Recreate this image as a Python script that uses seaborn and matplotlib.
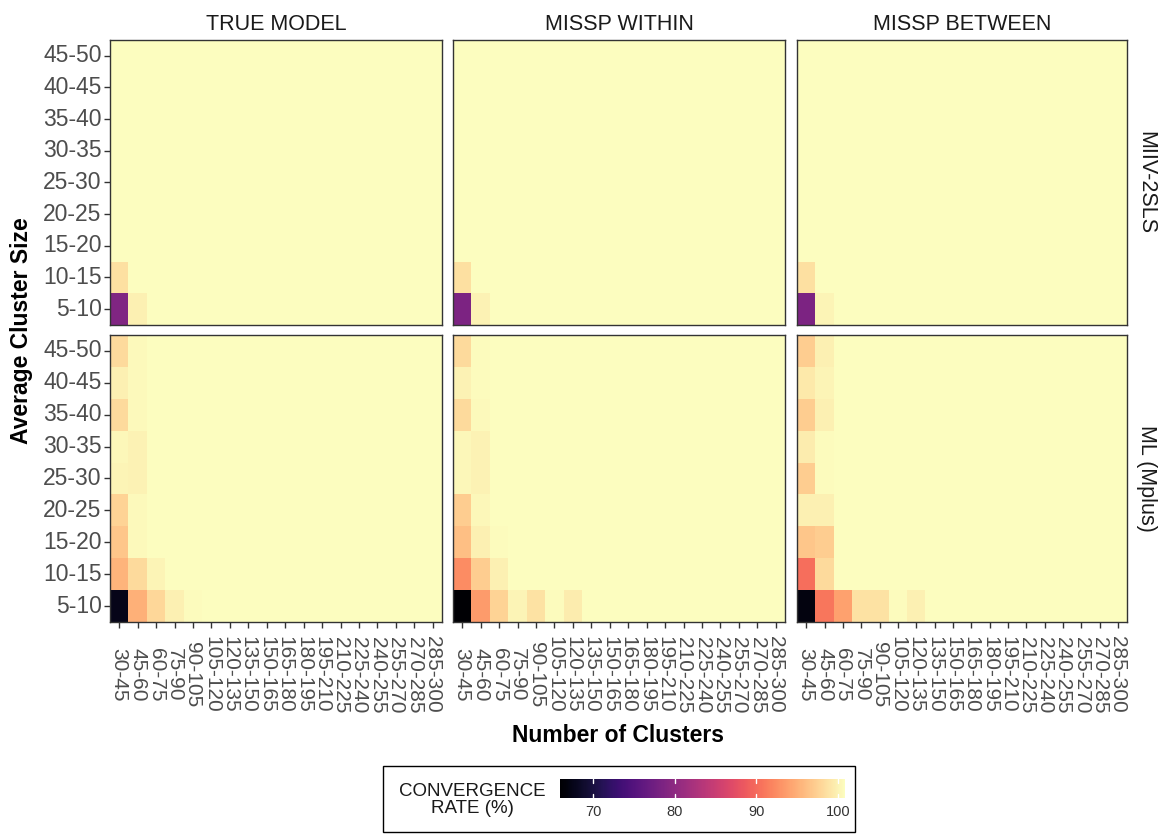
import numpy as np
import pandas as pd
import matplotlib
matplotlib.use("Agg")
import matplotlib.pyplot as plt
from matplotlib.patches import Rectangle
from matplotlib.cm import ScalarMappable
from matplotlib.colors import Normalize
import seaborn as sns

# ---- categories -------------------------------------------------------
n_clusters = ["30-45", "45-60", "60-75", "75-90", "90-105", "105-120", "120-135",
              "135-150", "150-165", "165-180", "180-195", "195-210", "210-225",
              "225-240", "240-255", "255-270", "270-285", "285-300"]
cluster_size = ["5-10", "10-15", "15-20", "20-25", "25-30", "30-35", "35-40",
                "40-45", "45-50"]
models = ["TRUE MODEL", "MISSP WITHIN", "MISSP BETWEEN"]
estimators = ["MIIV-2SLS", "ML (Mplus)"]

# ---- convergence rates (%), rows ordered 5-10 ... 45-50 ----------------
miiv_true = [
    [79.0, 99.0, 100, 100, 100, 100, 100, 100, 100, 100, 100, 100, 100, 100, 100, 100, 100, 100],
    [97.8, 99.9, 100, 100, 100, 100, 100, 100, 100, 100, 100, 100, 100, 100, 100, 100, 100, 100],
    [100, 100, 100, 100, 100, 100, 100, 100, 100, 100, 100, 100, 100, 100, 100, 100, 100, 100],
    [100, 100, 100, 100, 100, 100, 100, 100, 100, 100, 100, 100, 100, 100, 100, 100, 100, 100],
    [100, 100, 100, 100, 100, 100, 100, 100, 100, 100, 100, 100, 100, 100, 100, 100, 100, 100],
    [100, 100, 100, 100, 100, 100, 100, 100, 100, 100, 100, 100, 100, 100, 100, 100, 100, 100],
    [100, 100, 100, 100, 100, 100, 100, 100, 100, 100, 100, 100, 100, 100, 100, 100, 100, 100],
    [100, 100, 100, 100, 100, 100, 100, 100, 100, 100, 100, 100, 100, 100, 100, 100, 100, 100],
    [100, 100, 100, 100, 100, 100, 100, 100, 100, 100, 100, 100, 100, 100, 100, 100, 100, 100],
]
miiv_within = [
    [78.8, 99.2, 100, 100, 100, 100, 100, 100, 100, 100, 100, 100, 100, 100, 100, 100, 100, 100],
    [97.8, 100, 100, 100, 100, 100, 100, 100, 100, 100, 100, 100, 100, 100, 100, 100, 100, 100],
    [100, 100, 100, 100, 100, 100, 100, 100, 100, 100, 100, 100, 100, 100, 100, 100, 100, 100],
    [100, 100, 100, 100, 100, 100, 100, 100, 100, 100, 100, 100, 100, 100, 100, 100, 100, 100],
    [100, 100, 100, 100, 100, 100, 100, 100, 100, 100, 100, 100, 100, 100, 100, 100, 100, 100],
    [100, 100, 100, 100, 100, 100, 100, 100, 100, 100, 100, 100, 100, 100, 100, 100, 100, 100],
    [100, 100, 100, 100, 100, 100, 100, 100, 100, 100, 100, 100, 100, 100, 100, 100, 100, 100],
    [100, 100, 100, 100, 100, 100, 100, 100, 100, 100, 100, 100, 100, 100, 100, 100, 100, 100],
    [100, 100, 100, 100, 100, 100, 100, 100, 100, 100, 100, 100, 100, 100, 100, 100, 100, 100],
]
miiv_between = [
    [78.8, 99.3, 100, 100, 100, 100, 100, 100, 100, 100, 100, 100, 100, 100, 100, 100, 100, 100],
    [97.8, 100, 100, 100, 100, 100, 100, 100, 100, 100, 100, 100, 100, 100, 100, 100, 100, 100],
    [100, 100, 100, 100, 100, 100, 100, 100, 100, 100, 100, 100, 100, 100, 100, 100, 100, 100],
    [100, 100, 100, 100, 100, 100, 100, 100, 100, 100, 100, 100, 100, 100, 100, 100, 100, 100],
    [100, 100, 100, 100, 100, 100, 100, 100, 100, 100, 100, 100, 100, 100, 100, 100, 100, 100],
    [100, 100, 100, 100, 100, 100, 100, 100, 100, 100, 100, 100, 100, 100, 100, 100, 100, 100],
    [100, 100, 100, 100, 100, 100, 100, 100, 100, 100, 100, 100, 100, 100, 100, 100, 100, 100],
    [100, 100, 100, 100, 100, 100, 100, 100, 100, 100, 100, 100, 100, 100, 100, 100, 100, 100],
    [100, 100, 100, 100, 100, 100, 100, 100, 100, 100, 100, 100, 100, 100, 100, 100, 100, 100],
]
ml_true = [
    [68.3, 94.5, 97.2, 99.0, 99.8, 100, 100, 100, 100, 100, 100, 100, 100, 100, 100, 100, 100, 100],
    [94.8, 97.5, 99.3, 100, 100, 100, 100, 100, 100, 100, 100, 100, 100, 100, 100, 100, 100, 100],
    [96.0, 99.7, 99.9, 100, 100, 100, 100, 100, 100, 100, 100, 100, 100, 100, 100, 100, 100, 100],
    [97.0, 99.7, 100, 100, 100, 100, 100, 100, 100, 100, 100, 100, 100, 100, 100, 100, 100, 100],
    [99.3, 99.2, 100, 100, 100, 100, 100, 100, 100, 100, 100, 100, 100, 100, 100, 100, 100, 100],
    [99.5, 99.2, 100, 100, 100, 100, 100, 100, 100, 100, 100, 100, 100, 100, 100, 100, 100, 100],
    [97.5, 99.7, 100, 100, 100, 100, 100, 100, 100, 100, 100, 100, 100, 100, 100, 100, 100, 100],
    [99.0, 99.7, 100, 100, 100, 100, 100, 100, 100, 100, 100, 100, 100, 100, 100, 100, 100, 100],
    [97.5, 99.7, 100, 100, 100, 100, 100, 100, 100, 100, 100, 100, 100, 100, 100, 100, 100, 100],
]
ml_within = [
    [66.8, 93.0, 97.0, 99.3, 98.0, 99.8, 98.8, 100, 100, 100, 100, 100, 100, 100, 100, 100, 100, 100],
    [92.0, 96.5, 99.0, 100, 100, 100, 100, 100, 100, 100, 100, 100, 100, 100, 100, 100, 100, 100],
    [95.5, 99.0, 99.8, 100, 100, 100, 100, 100, 100, 100, 100, 100, 100, 100, 100, 100, 100, 100],
    [96.5, 99.6, 100, 100, 100, 100, 100, 100, 100, 100, 100, 100, 100, 100, 100, 100, 100, 100],
    [99.5, 99.2, 100, 100, 100, 100, 100, 100, 100, 100, 100, 100, 100, 100, 100, 100, 100, 100],
    [99.5, 99.2, 100, 100, 100, 100, 100, 100, 100, 100, 100, 100, 100, 100, 100, 100, 100, 100],
    [97.5, 99.7, 100, 100, 100, 100, 100, 100, 100, 100, 100, 100, 100, 100, 100, 100, 100, 100],
    [99.2, 99.8, 100, 100, 100, 100, 100, 100, 100, 100, 100, 100, 100, 100, 100, 100, 100, 100],
    [97.5, 99.8, 100, 100, 100, 100, 100, 100, 100, 100, 100, 100, 100, 100, 100, 100, 100, 100],
]
ml_between = [
    [67.8, 90.5, 93.5, 98.0, 98.0, 99.8, 99.0, 100, 100, 100, 100, 100, 100, 100, 100, 100, 100, 100],
    [90.0, 97.5, 100, 100, 100, 100, 100, 100, 100, 100, 100, 100, 100, 100, 100, 100, 100, 100],
    [96.0, 96.5, 100, 100, 100, 100, 100, 100, 100, 100, 100, 100, 100, 100, 100, 100, 100, 100],
    [99.0, 99.0, 100, 100, 100, 100, 100, 100, 100, 100, 100, 100, 100, 100, 100, 100, 100, 100],
    [96.5, 99.8, 100, 100, 100, 100, 100, 100, 100, 100, 100, 100, 100, 100, 100, 100, 100, 100],
    [98.8, 99.8, 100, 100, 100, 100, 100, 100, 100, 100, 100, 100, 100, 100, 100, 100, 100, 100],
    [96.5, 99.0, 100, 100, 100, 100, 100, 100, 100, 100, 100, 100, 100, 100, 100, 100, 100, 100],
    [98.5, 99.3, 100, 100, 100, 100, 100, 100, 100, 100, 100, 100, 100, 100, 100, 100, 100, 100],
    [96.5, 99.0, 100, 100, 100, 100, 100, 100, 100, 100, 100, 100, 100, 100, 100, 100, 100, 100],
]

panels = [[miiv_true, miiv_within, miiv_between],
          [ml_true, ml_within, ml_between]]

all_vals = np.array(panels, dtype=float)
vmin, vmax = float(all_vals.min()), float(all_vals.max())
cmap = "magma"

sns.set_theme(style="white")
plt.rcParams["font.family"] = ["Liberation Sans", "DejaVu Sans"]

W, H = 1173, 838
fig = plt.figure(figsize=(W / 100, H / 100), dpi=100)

def fx(px):
    return px / W

def fy(py):
    return 1 - py / H

col_left = [110, 453, 797]
col_width = [332, 332, 330]
row_top = [40, 335]
row_bottom = [325, 622]

tick_color = "#4D4D4D"
for r in range(2):
    for c in range(3):
        ax = fig.add_axes([fx(col_left[c]), fy(row_bottom[r]),
                           col_width[c] / W, (row_bottom[r] - row_top[r]) / H])
        df = pd.DataFrame(panels[r][c], index=cluster_size, columns=n_clusters)
        df = df.iloc[::-1]
        sns.heatmap(df, ax=ax, cmap=cmap, vmin=vmin, vmax=vmax, cbar=False,
                    linewidths=0)
        for s in ax.spines.values():
            s.set_visible(True)
            s.set_color("#333333")
            s.set_linewidth(1.0)
        ax.set_xlabel("")
        ax.set_ylabel("")
        ax.set_xticks(np.arange(len(n_clusters)) + 0.5)
        ax.set_yticks(np.arange(len(cluster_size)) + 0.5)
        ax.tick_params(axis="both", which="major", length=4, width=1,
                       color="#333333", labelcolor=tick_color,
                       direction="out", bottom=(r == 1), left=(c == 0))
        if c == 0:
            ax.set_yticklabels(cluster_size[::-1], rotation=0)
            ax.tick_params(axis="y", labelsize=16.5, pad=2)
        else:
            ax.set_yticklabels([])
        if r == 1:
            ax.set_xticklabels(n_clusters, rotation=-90, ha="center",
                               va="center")
            ax.tick_params(axis="x", labelsize=15, pad=34)
        else:
            ax.set_xticklabels([])
        if r == 0:
            ax.set_title(models[c], fontsize=15.5, color="#1A1A1A", pad=7)

# facet strip labels on the right
for r, name in enumerate(estimators):
    fig.text(fx(1146), fy((row_top[r] + row_bottom[r]) / 2), name,
             rotation=-90, ha="center", va="center", fontsize=15.5,
             color="#1A1A1A")

# axis titles
fig.text(fx(618), fy(735), "Number of Clusters", ha="center", va="center",
         fontsize=16.5, fontweight="bold", color="black")
fig.text(fx(22), fy(331), "Average Cluster Size", ha="center", va="center",
         rotation=90, fontsize=16.5, fontweight="bold", color="black")

# colour bar legend (bar runs half a bin past the data range at each end)
fig.patches.append(Rectangle((fx(383), fy(832)), 472 / W, 66 / H,
                             transform=fig.transFigure, fill=False,
                             edgecolor="black", linewidth=1.0))
cax = fig.add_axes([fx(560), fy(798), 285 / W, 19 / H])
half_bin = (vmax - vmin) / 38
sm = ScalarMappable(norm=Normalize(vmin=vmin - half_bin, vmax=vmax + half_bin),
                    cmap=cmap)
cb = fig.colorbar(sm, cax=cax, orientation="horizontal")
cb.outline.set_visible(False)
cb.set_ticks([70, 80, 90, 100])
cax.tick_params(length=0, labelsize=10.5, labelcolor="#333333", pad=5)
for v in [70, 80, 90, 100]:
    cax.axvline(v, ymin=0, ymax=0.2, color="white", linewidth=1)
    cax.axvline(v, ymin=0.8, ymax=1, color="white", linewidth=1)
fig.text(fx(472), fy(800), "CONVERGENCE\nRATE (%)", ha="center", va="center",
         multialignment="center", fontsize=13.5, color="#1A1A1A",
         linespacing=1.05)

fig.savefig("out.png", dpi=100)
